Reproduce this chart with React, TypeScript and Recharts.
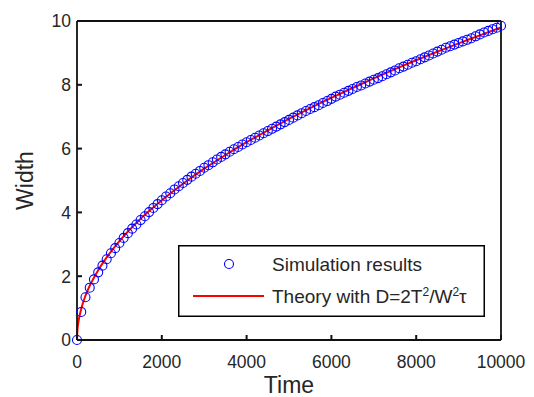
import { ComposedChart, Scatter, Line, XAxis, YAxis, Legend } from "recharts";

// simulation samples, one every 100 time steps
const simTimes = [
  0, 100, 200, 300, 400, 500, 600, 700, 800, 900,
  1000, 1100, 1200, 1300, 1400, 1500, 1600, 1700, 1800, 1900,
  2000, 2100, 2200, 2300, 2400, 2500, 2600, 2700, 2800, 2900,
  3000, 3100, 3200, 3300, 3400, 3500, 3600, 3700, 3800, 3900,
  4000, 4100, 4200, 4300, 4400, 4500, 4600, 4700, 4800, 4900,
  5000, 5100, 5200, 5300, 5400, 5500, 5600, 5700, 5800, 5900,
  6000, 6100, 6200, 6300, 6400, 6500, 6600, 6700, 6800, 6900,
  7000, 7100, 7200, 7300, 7400, 7500, 7600, 7700, 7800, 7900,
  8000, 8100, 8200, 8300, 8400, 8500, 8600, 8700, 8800, 8900,
  9000, 9100, 9200, 9300, 9400, 9500, 9600, 9700, 9800, 9900,
  10000,
];
const simWidths = [
  0, 0.88, 1.34, 1.64, 1.9, 2.12, 2.33, 2.53, 2.72, 2.88,
  3.04, 3.2, 3.35, 3.49, 3.62, 3.76, 3.88, 4.01, 4.14, 4.26,
  4.38, 4.5, 4.6, 4.72, 4.82, 4.92, 5.02, 5.12, 5.21, 5.3,
  5.4, 5.48, 5.57, 5.66, 5.74, 5.82, 5.9, 5.98, 6.05, 6.13,
  6.2, 6.27, 6.34, 6.41, 6.48, 6.55, 6.62, 6.69, 6.76, 6.83,
  6.9, 6.97, 7.04, 7.11, 7.18, 7.24, 7.3, 7.36, 7.43, 7.49,
  7.56, 7.63, 7.69, 7.75, 7.81, 7.87, 7.93, 7.98, 8.04, 8.1,
  8.16, 8.21, 8.27, 8.33, 8.39, 8.45, 8.52, 8.57, 8.63, 8.69,
  8.74, 8.8, 8.86, 8.92, 8.98, 9.04, 9.1, 9.16, 9.21, 9.26,
  9.31, 9.36, 9.41, 9.46, 9.52, 9.58, 9.64, 9.69, 9.74, 9.79,
  9.85,
];

// theory curve
const theoryTimes = [
  0, 10, 25, 50, 100, 200, 300, 500, 700, 1000, 1500, 2000, 2500, 3000,
  3500, 4000, 4500, 5000, 5500, 6000, 6500, 7000, 7500, 8000, 8500,
  9000, 9500, 10000,
];
const theoryWidths = [
  0, 0.31, 0.49, 0.69, 0.98, 1.39, 1.7, 2.19, 2.59, 3.1, 3.8, 4.38, 4.9,
  5.37, 5.8, 6.2, 6.57, 6.93, 7.27, 7.59, 7.9, 8.2, 8.49, 8.77, 9.04,
  9.3, 9.55, 9.8,
];

const xTicks = [0, 2000, 4000, 6000, 8000, 10000];
const yTicks = [0, 2, 4, 6, 8, 10];

const simData = simTimes.map((t, i) => ({ t, w: simWidths[i] }));
const theoryData = theoryTimes.map((t, i) => ({ t, w: theoryWidths[i] }));

const font = '"Liberation Sans", Arial, Helvetica, sans-serif';
const textColor = "#262626";
const TICK_LEN = 5;
const X_MARGIN = 14;
const Y_MARGIN = 7;
const tickStroke = { stroke: "#111", strokeWidth: 2 };

const Ring = (props: any) => (
  <circle cx={props.cx} cy={props.cy} r={4.5} fill="none" stroke="#0000ff" strokeWidth={1.1} />
);

// ticks point inwards, like matlab's box
const BottomTick = ({ x, y, payload }: any) => {
  const axisY = y - X_MARGIN;
  return (
    <g>
      <line x1={x} x2={x} y1={axisY} y2={axisY - TICK_LEN} {...tickStroke} />
      <text x={x} y={axisY + 28} textAnchor="middle" fontSize={17.5} fill={textColor} fontFamily={font}>
        {payload.value}
      </text>
    </g>
  );
};

const LeftTick = ({ x, y, payload }: any) => {
  const axisX = x + Y_MARGIN;
  return (
    <g>
      <line x1={axisX} x2={axisX + TICK_LEN} y1={y} y2={y} {...tickStroke} />
      <text x={axisX - 6} y={y} dy="0.36em" textAnchor="end" fontSize={17.5} fill={textColor} fontFamily={font}>
        {payload.value}
      </text>
    </g>
  );
};

const TopTick = ({ x, y }: any) => (
  <line x1={x} x2={x} y1={y} y2={y + TICK_LEN} {...tickStroke} />
);

const RightTick = ({ x, y }: any) => (
  <line x1={x} x2={x - TICK_LEN} y1={y} y2={y} {...tickStroke} />
);

function LegendBox() {
  return (
    <svg width={307} height={72} style={{ display: "block", overflow: "visible" }}>
      <rect x={0.75} y={0.75} width={305.5} height={70.5} fill="#fff" stroke="#000" strokeWidth={1.5} />
      <circle cx={51} cy={19} r={4.5} fill="none" stroke="#0000ff" strokeWidth={1.1} />
      <text x={94} y={19} dy="0.36em" fontSize={19} fill={textColor} fontFamily={font}>
        Simulation results
      </text>
      <line x1={15} x2={86} y1={51} y2={51} stroke="#ff0000" strokeWidth={2} />
      <text x={94} y={51} dy="0.36em" fontSize={19} fill={textColor} fontFamily={font}>
        Theory with D=2T
        <tspan dy={-7} fontSize={12}>2</tspan>
        <tspan dy={7}>/W</tspan>
        <tspan dy={-7} fontSize={12}>2</tspan>
        <tspan dy={7}>τ</tspan>
      </text>
    </svg>
  );
}

export default function App() {
  return (
    <div style={{ width: 534, height: 397, background: "#fff", fontFamily: font }}>
      <style>{"body{margin:0}"}</style>
      <ComposedChart width={534} height={397} margin={{ top: 20, right: 32, bottom: 0, left: 0 }}>
        <XAxis
          dataKey="t"
          type="number"
          domain={[0, 10000]}
          ticks={xTicks}
          height={57}
          stroke="#111"
          strokeWidth={1.8}
          tickLine={false}
          tickSize={0}
          tickMargin={X_MARGIN}
          tick={<BottomTick />}
          label={{ value: "Time", position: "insideBottom", offset: 4, fontSize: 23, fill: textColor, fontFamily: font }}
        />
        <XAxis
          xAxisId="top"
          orientation="top"
          dataKey="t"
          type="number"
          domain={[0, 10000]}
          ticks={xTicks}
          height={1}
          stroke="#111"
          strokeWidth={1.8}
          tickLine={false}
          tickSize={0}
          tickMargin={0}
          tick={<TopTick />}
        />
        <YAxis
          type="number"
          domain={[0, 10]}
          ticks={yTicks}
          width={77}
          stroke="#111"
          strokeWidth={1.8}
          tickLine={false}
          tickSize={0}
          tickMargin={Y_MARGIN}
          tick={<LeftTick />}
          label={{
            value: "Width",
            angle: -90,
            position: "insideLeft",
            offset: 25,
            fontSize: 23,
            fill: textColor,
            fontFamily: font,
            style: { textAnchor: "middle" },
          }}
        />
        <YAxis
          yAxisId="right"
          orientation="right"
          type="number"
          domain={[0, 10]}
          ticks={yTicks}
          width={1}
          stroke="#111"
          strokeWidth={1.8}
          tickLine={false}
          tickSize={0}
          tickMargin={0}
          tick={<RightTick />}
        />
        <Legend
          layout="vertical"
          align="center"
          verticalAlign="middle"
          wrapperStyle={{ left: 178, top: 245, width: 307, height: 72 }}
          content={() => <LegendBox />}
        />
        <Scatter data={simData} dataKey="w" shape={Ring} isAnimationActive={false} />
        <Line
          data={theoryData}
          dataKey="w"
          type="monotone"
          stroke="#ff0000"
          strokeWidth={2}
          dot={false}
          activeDot={false}
          isAnimationActive={false}
        />
      </ComposedChart>
    </div>
  );
}
